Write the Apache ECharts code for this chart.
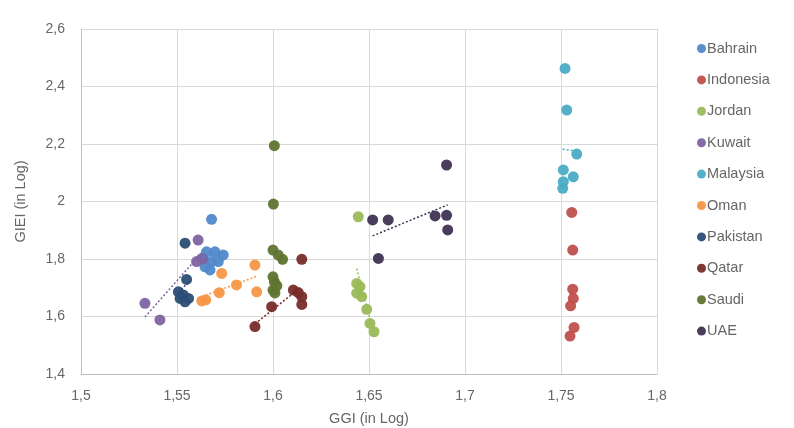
<!DOCTYPE html>
<html>
<head>
<meta charset="utf-8">
<script src="https://cdn.jsdelivr.net/npm/echarts@6/dist/echarts.min.js"></script>
<style>html,body{margin:0;padding:0;background:#fff}#c{width:794px;height:428px}</style>
</head>
<body>
<div id="c"></div>
<script>
const countries = ['Bahrain','Indonesia','Jordan','Kuwait','Malaysia','Oman','Pakistan','Qatar','Saudi','UAE'];
const colors = ['#4f89c9','#c0504d','#9bbb59','#8064a2','#4bacc6','#f79646','#2c4d75','#772c2a','#5f7530','#403152'];
const xTicks = [1.5,1.55,1.6,1.65,1.7,1.75,1.8];
const yTicks = [1.4,1.6,1.8,2.0,2.2,2.4,2.6];

const bahrain = [[1.568,1.938],[1.5654,1.825],[1.5698,1.825],[1.5741,1.814],[1.5629,1.802],[1.568,1.791],[1.5715,1.791],[1.5646,1.773],[1.5672,1.762]];
const indonesia = [[1.7556,1.962],[1.7561,1.831],[1.7561,1.695],[1.7564,1.663],[1.755,1.637],[1.7568,1.562],[1.7547,1.532]];
const jordan = [[1.6444,1.947],[1.6436,1.715],[1.6453,1.704],[1.6436,1.681],[1.6462,1.669],[1.6488,1.625],[1.6505,1.576],[1.6526,1.547]];
const kuwait = [[1.561,1.866],[1.5602,1.791],[1.5333,1.646],[1.5411,1.588],[1.5635,1.80]];
const malaysia = [[1.7521,2.463],[1.753,2.318],[1.7582,2.165],[1.7512,2.11],[1.7564,2.086],[1.7512,2.069],[1.7509,2.046]];
const oman = [[1.5906,1.779],[1.5733,1.750],[1.581,1.710],[1.572,1.683],[1.5915,1.686],[1.5629,1.654],[1.565,1.658]];
const pakistan = [[1.5542,1.855],[1.555,1.729],[1.5507,1.686],[1.5533,1.675],[1.5516,1.663],[1.556,1.663],[1.5542,1.651]];
const qatar = [[1.615,1.799],[1.6106,1.692],[1.6132,1.683],[1.615,1.669],[1.615,1.642],[1.5993,1.634],[1.5906,1.565]];
const saudi = [[1.6007,2.194],[1.6002,1.991],[1.6,1.831],[1.6027,1.814],[1.605,1.799],[1.6,1.738],[1.6007,1.721],[1.602,1.707],[1.6,1.692],[1.601,1.682]];
const uae = [[1.6904,2.127],[1.6519,1.936],[1.66,1.936],[1.6844,1.95],[1.6904,1.952],[1.691,1.901],[1.6549,1.802]];

const allData = [bahrain,indonesia,jordan,kuwait,malaysia,oman,pakistan,qatar,saudi,uae];

function trend(pts){
  const n = pts.length;
  let sx=0,sy=0,sxx=0,sxy=0,mn=Infinity,mx=-Infinity;
  pts.forEach(p=>{sx+=p[0];sy+=p[1];sxx+=p[0]*p[0];sxy+=p[0]*p[1];mn=Math.min(mn,p[0]);mx=Math.max(mx,p[0]);});
  const b=(n*sxy-sx*sy)/(n*sxx-sx*sx);
  const a=(sy-b*sx)/n;
  return [[mn,a+b*mn],[mx,a+b*mx]];
}

const fmt = v => String(+v.toFixed(2)).replace('.', ',');
const txt = '#666666';
const series = [];
countries.forEach((c,i)=>{
  series.push({name:c,type:'scatter',data:allData[i],symbolSize:11,itemStyle:{color:colors[i],opacity:0.95},z:2});
});
countries.forEach((c,i)=>{
  series.push({name:c+'_trend',type:'line',data:trend(allData[i]),showSymbol:false,silent:true,
    lineStyle:{color:colors[i],width:1.5,type:[2,2]},z:3});
});

const chart = echarts.init(document.getElementById('c'));
chart.setOption({
  animation:false,
  textStyle:{fontFamily:'Liberation Sans, Arial, sans-serif'},
  grid:{left:81,right:137,top:29,bottom:54,outerBoundsMode:'none',containLabel:false},
  legend:{data:countries.map((c,i)=>({name:c,icon:'circle'})),orient:'vertical',left:692,top:36,itemGap:16.4,itemWidth:9,itemHeight:16.3,
    textStyle:{color:txt,fontSize:14.5,padding:[0,0,0,-4]}},
  xAxis:{type:'value',min:1.5,max:1.8,interval:0.05,name:'GGI (in Log)',nameLocation:'middle',nameGap:37,
    nameTextStyle:{color:txt,fontSize:14.5},
    axisLine:{show:true,lineStyle:{color:'#bfbfbf'}},axisTick:{show:false},
    axisLabel:{color:txt,fontSize:14,formatter:fmt,margin:15},
    splitLine:{show:true,lineStyle:{color:'#d9d9d9'}}},
  yAxis:{type:'value',min:1.4,max:2.6,interval:0.2,name:'GIEI (in Log)',nameLocation:'middle',nameGap:53,
    nameTextStyle:{color:txt,fontSize:14.5},
    axisLine:{show:true,lineStyle:{color:'#bfbfbf'}},axisTick:{show:false},
    axisLabel:{color:txt,fontSize:14,formatter:fmt,margin:16},
    splitLine:{show:true,lineStyle:{color:'#d9d9d9'}}},
  series:series
});
</script>
</body>
</html>
